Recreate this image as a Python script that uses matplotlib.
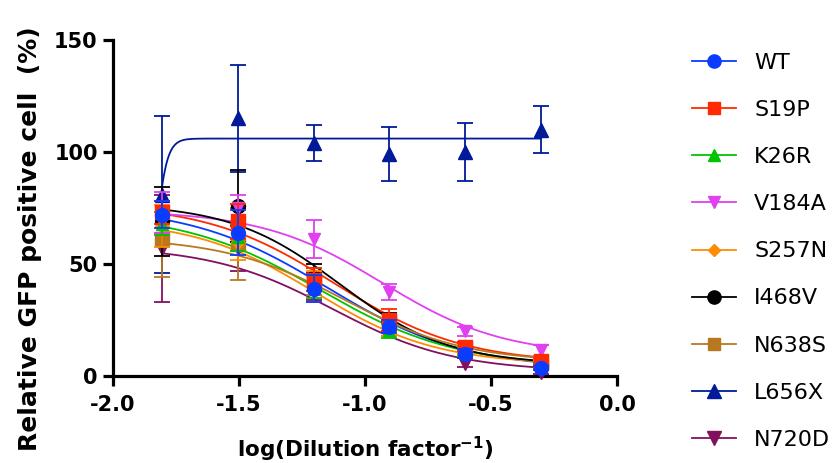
import numpy as np
import matplotlib
matplotlib.use("Agg")
import matplotlib.pyplot as plt
from matplotlib.lines import Line2D

# ---- data ----
log_dilution = [-1.806, -1.505, -1.204, -0.903, -0.602, -0.301]

series_names = ["WT", "S19P", "K26R", "V184A", "S257N", "I468V", "N638S", "L656X", "N720D"]

wt_mean = [72, 64, 39, 22, 10, 3.5]
wt_sem = [6, 10, 6, 3, 2, 1]
s19p_mean = [73, 69, 43, 25, 13, 6.5]
s19p_sem = [5, 8, 5, 5, 2, 1.5]
k26r_mean = [68, 62, 40, 20, 11, 5]
k26r_sem = [5, 6, 5, 3, 2, 1]
v184a_mean = [73, 75, 61, 37.6, 20, 11.5]
v184a_sem = [9, 6, 8.5, 3.5, 2, 2.5]
s257n_mean = [67, 60, 40, 22, 12, 6]
s257n_sem = [9.5, 8, 7, 4, 2, 1]
i468v_mean = [69, 76, 44, 24, 13, 5]
i468v_sem = [15.5, 16, 6, 4, 2, 1]
n638s_mean = [61, 59, 42, 24, 12, 6]
n638s_sem = [17, 16, 6, 4, 2, 1]
l656x_mean = [81, 115, 104, 99, 100, 110]
l656x_sem = [35, 24, 8, 12, 13, 10.5]
n720d_mean = [57, 57, 40, 21, 6, 2]
n720d_sem = [24, 10, 6, 3, 2, 1]

# 4-parameter logistic fit parameters: top, bottom, logIC50, hill
fit_top = [76, 77, 73, 74, 70, 77, 62, 106, 58]
fit_bottom = [3, 5.5, 4, 9, 5, 5, 6, 0, 2]
fit_logic50 = [-1.15, -1.12, -1.18, -0.93, -1.2, -1.1, -1.08, -1.837, -1.13]
fit_hill = [1.6, 1.7, 1.6, 1.8, 1.8, 2.0, 1.8, -19, 1.8]

means = [wt_mean, s19p_mean, k26r_mean, v184a_mean, s257n_mean, i468v_mean, n638s_mean, l656x_mean, n720d_mean]
sems = [wt_sem, s19p_sem, k26r_sem, v184a_sem, s257n_sem, i468v_sem, n638s_sem, l656x_sem, n720d_sem]

colors = ["#0A3CFF", "#FF2A00", "#00C400", "#E040F0", "#FF8C00", "#000000", "#B87820", "#001A99", "#82105F"]
markers = ["o", "s", "^", "v", "D", "o", "s", "^", "v"]
msizes = [10, 9.5, 9, 9, 7, 10, 9.5, 10, 10]

xticks = [-2.0, -1.5, -1.0, -0.5, 0.0]
yticks = [0, 50, 100, 150]

plt.rcParams['font.family'] = ['DejaVu Sans']

fig = plt.figure(figsize=(8.33, 4.63), dpi=100)
ax = fig.add_axes([0.1357, 0.1879, 0.605, 0.7257])

x = np.array(log_dilution)
xf = np.linspace(x.min(), x.max(), 400)

n = len(series_names)
for i in reversed(range(n)):
    top, bot, c, h = fit_top[i], fit_bottom[i], fit_logic50[i], fit_hill[i]
    yf = bot + (top - bot) / (1 + 10 ** ((xf - c) * h))
    ax.plot(xf, yf, color=colors[i], lw=1.3, zorder=2 + i * 0.01, clip_on=False)

for i in reversed(range(n)):
    ax.errorbar(x, means[i], yerr=sems[i], fmt=markers[i], color=colors[i],
                ms=msizes[i], elinewidth=1.3, capsize=6, capthick=1.3,
                zorder=10 + (n - i), clip_on=False)

ax.set_xlim(-2.0, 0.0)
ax.set_ylim(0, 150)
ax.set_xticks(xticks)
ax.set_xticklabels([f"{t:.1f}" for t in xticks])
ax.set_yticks(yticks)

for s in ["top", "right"]:
    ax.spines[s].set_visible(False)
for s in ["left", "bottom"]:
    ax.spines[s].set_linewidth(2.3)
ax.tick_params(axis="both", width=2.3, length=7, labelsize=15, pad=4)
ax.tick_params(axis="x", pad=7)
for lab in ax.get_xticklabels() + ax.get_yticklabels():
    lab.set_fontweight("bold")

ax.set_xlabel("log(Dilution factor$^{\\mathbf{-1}}$)", fontsize=15.5, fontweight="bold", labelpad=14)
ax.set_ylabel("Relative GFP positive cell  (%)", fontsize=18, fontweight="bold", labelpad=6)
ax.yaxis.set_label_coords(-0.14, 0.41)

handles = [Line2D([0], [0], color=colors[i], marker=markers[i], ms=msizes[i] - 0.5, lw=1.3)
           for i in range(n)]
leg = fig.legend(handles, series_names, loc="upper left", bbox_to_anchor=(0.82, 0.905),
                 frameon=False, fontsize=16, handlelength=2.0, handletextpad=0.8,
                 labelspacing=1.22, borderaxespad=0)

fig.savefig("out.png", dpi=100)
